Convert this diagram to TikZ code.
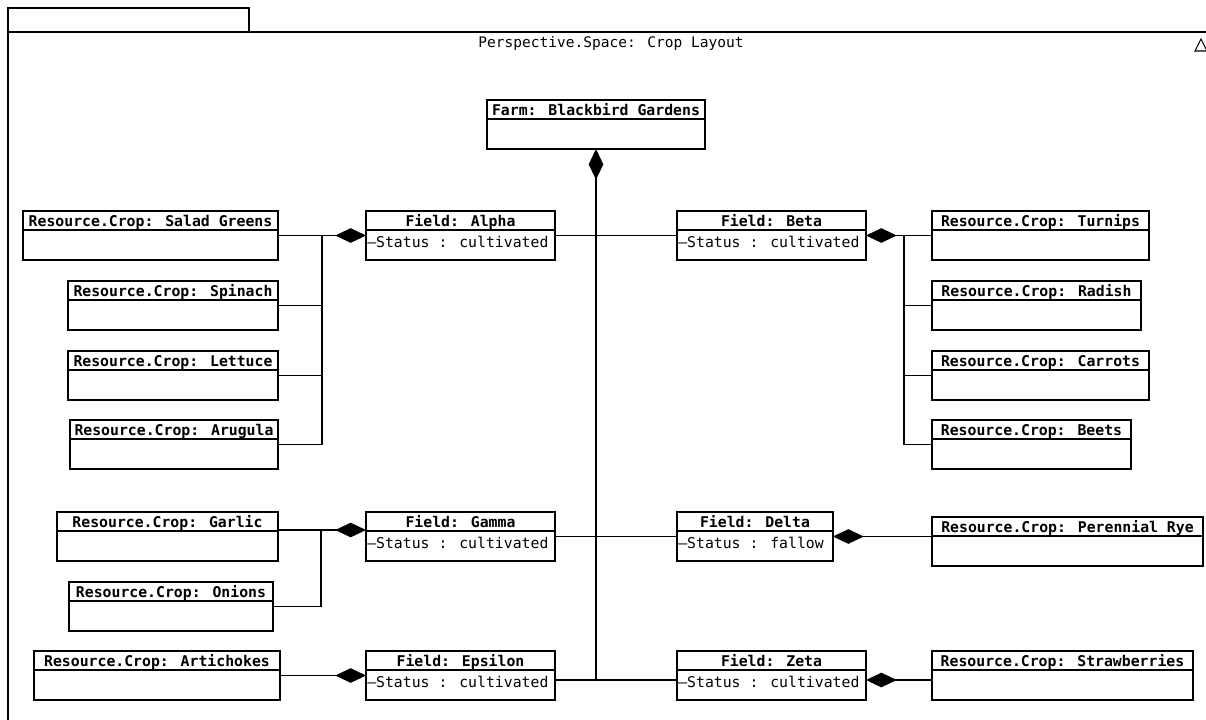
\documentclass[tikz,border=0pt]{standalone}
\usepackage{fontspec}
\newfontfamily\umlmono{DejaVu Sans Mono}
\usetikzlibrary{arrows.meta}

\tikzset{
  ln/.style={line width=1.15pt, draw=black},
  classbox/.style={ln, inner sep=0pt, outer sep=0pt, anchor=north west},
  hdr/.style={font=\umlmono\bfseries\fontsize{11.1}{13}\selectfont, inner sep=0pt, anchor=base},
  attr/.style={font=\umlmono\fontsize{11.1}{13}\selectfont, inner sep=0pt, anchor=base west},
  titletext/.style={font=\umlmono\fontsize{10.9}{13}\selectfont, inner sep=0pt},
  link/.style={ln},
  comp/.style={ln, {Diamond[length=23pt,width=11pt]}-},
}

% \umlclass{name}{left}{top}{right}{bottom}{title}{attribute}
\newcommand\umlclass[7]{%
  \node[classbox, minimum width={(#4-#2)*0.75pt}, minimum height={(#5-#3)*0.75pt}] (#1) at (#2,#3) {};
  \draw[ln] (#2,#3+19) -- (#4,#3+19);
  \path (#1.north) ++(0,15.5) node[hdr] {#6};
  \path (#1.north west) ++(1,36) node[attr] {#7};
}

\begin{document}
\begin{tikzpicture}[x=0.75pt,y=-0.75pt]
\useasboundingbox (0,0) rectangle (1206,719);

% package frame with its tab
\draw[ln] (8,730) -- (8,8) -- (249,8) -- (249,32);
\draw[ln] (8,32) -- (1212,32);
\node[titletext] (title) at (611,43) {Perspective.Space: Crop Layout};
\draw[line width=0.8pt] (1195,51) -- (1201,39) -- (1207,51) -- cycle;

% classes
\umlclass{farm}{487}{100}{705}{149}{Farm: Blackbird Gardens}{}
\umlclass{salad}{23}{211}{278}{260}{Resource.Crop: Salad Greens}{}
\umlclass{alpha}{366}{211}{555}{260}{Field: Alpha}{–Status : cultivated}
\umlclass{beta}{677}{211}{866}{260}{Field: Beta}{–Status : cultivated}
\umlclass{turnips}{932}{211}{1149}{260}{Resource.Crop: Turnips}{}
\umlclass{spinach}{68}{281}{278}{330}{Resource.Crop: Spinach}{}
\umlclass{radish}{932}{281}{1141}{330}{Resource.Crop: Radish}{}
\umlclass{lettuce}{68}{351}{278}{400}{Resource.Crop: Lettuce}{}
\umlclass{carrots}{932}{351}{1149}{400}{Resource.Crop: Carrots}{}
\umlclass{arugula}{70}{420}{278}{469}{Resource.Crop: Arugula}{}
\umlclass{beets}{932}{420}{1131}{469}{Resource.Crop: Beets}{}
\umlclass{garlic}{57}{512}{278}{561}{Resource.Crop: Garlic}{}
\umlclass{gamma}{366}{512}{555}{561}{Field: Gamma}{–Status : cultivated}
\umlclass{delta}{677}{512}{833}{561}{Field: Delta}{–Status : fallow}
\umlclass{rye}{932}{517}{1203}{566}{Resource.Crop: Perennial Rye}{}
\umlclass{onions}{69}{582}{273}{631}{Resource.Crop: Onions}{}
\umlclass{artichokes}{34}{651}{280}{700}{Resource.Crop: Artichokes}{}
\umlclass{epsilon}{366}{651}{555}{700}{Field: Epsilon}{–Status : cultivated}
\umlclass{zeta}{677}{651}{866}{700}{Field: Zeta}{–Status : cultivated}
\umlclass{straw}{932}{651}{1193}{700}{Resource.Crop: Strawberries}{}

% junction points
\coordinate (farmend) at (596,680);
\coordinate (aj) at (322,235);
\coordinate (bj) at (904,235);
\coordinate (gj) at (321,530);

% farm composition trunk
\draw[comp] (farm.south) -- (farmend);
\draw[link] (alpha.east) -- (beta.west);
\draw[link] (gamma.east) -- (delta.west);
\draw[link] (epsilon.east |- farmend) -- (zeta.west |- farmend);

% Field Alpha
\draw[comp] (alpha.west) -- (salad.east);
\draw[link] (aj) |- (arugula.east);
\draw[link] (spinach.east) -- (spinach.east -| aj);
\draw[link] (lettuce.east) -- (lettuce.east -| aj);

% Field Beta
\draw[comp] (beta.east) -- (turnips.west);
\draw[link] (bj) |- (beets.west);
\draw[link] (radish.west) -- (radish.west -| bj);
\draw[link] (carrots.west) -- (carrots.west -| bj);

% Field Gamma
\draw[comp] (gamma.west |- gj) -- (garlic.east |- gj);
\draw[link] (gj) |- (onions.east);

% Field Delta
\draw[comp] (delta.east) -- (rye.west |- delta.east);

% Field Epsilon
\draw[comp] (epsilon.west) -- (artichokes.east);

% Field Zeta
\draw[comp] (zeta.east |- farmend) -- (straw.west |- farmend);
\end{tikzpicture}
\end{document}
